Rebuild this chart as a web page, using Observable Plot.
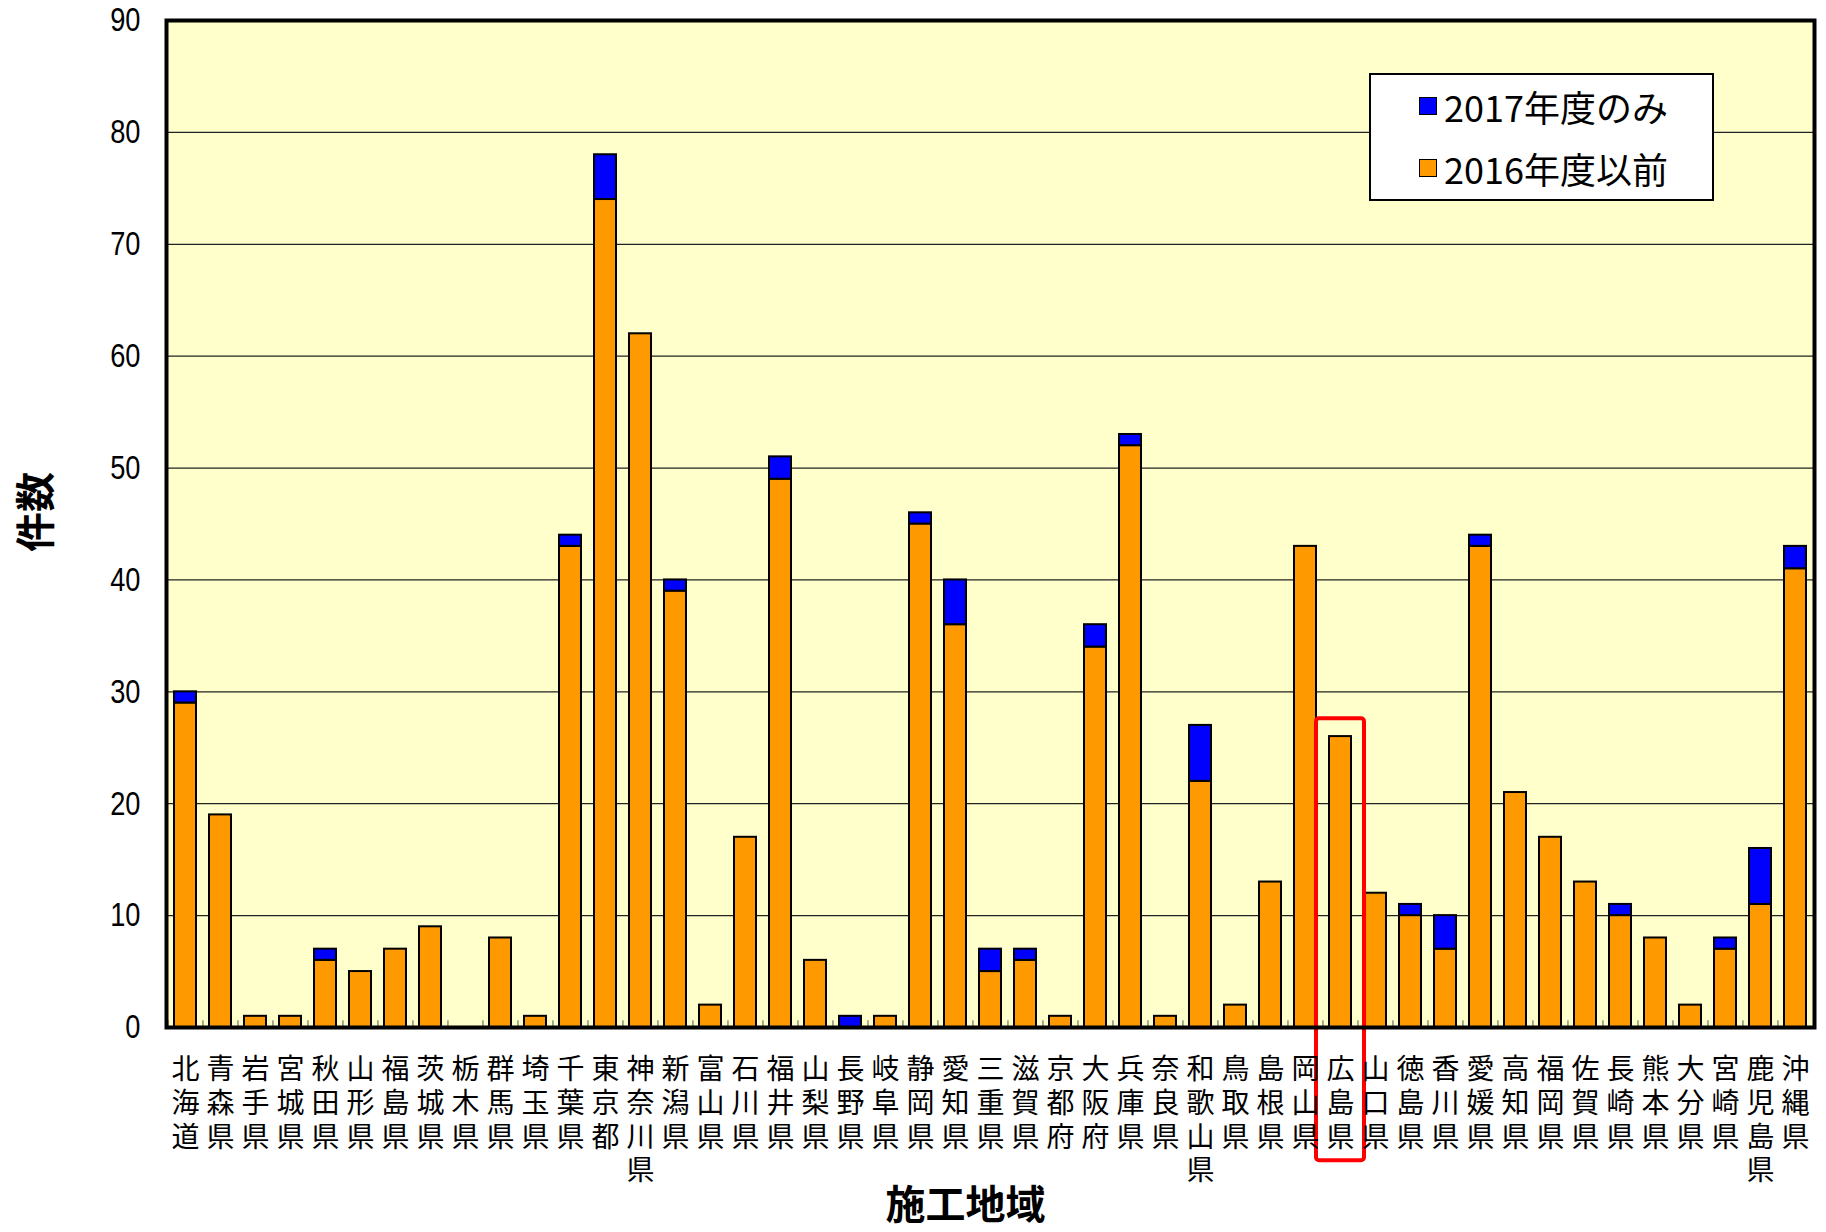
<!DOCTYPE html>
<html>
<head>
<meta charset="utf-8">
<script src="https://cdn.jsdelivr.net/npm/d3@7"></script>
<script src="https://cdn.jsdelivr.net/npm/@observablehq/plot@0.6"></script>
<style>
  body { margin: 0; background: #fff; }
  #wrap { position: relative; width: 1826px; height: 1232px; }
  #wrap svg { display: block; }
  .legend {
    position: absolute; left: 1369px; top: 73px; width: 345px; height: 128px;
    box-sizing: border-box; border: 2px solid #000; background: #fff;
    font-family: "Noto Sans CJK JP", sans-serif; font-size: 36px; color: #000;
  }
  .legend .row { height: 62px; display: flex; align-items: center; padding-left: 48px; }
  .legend .sw { width: 16px; height: 16px; border: 1.5px solid #000; margin-right: 7px; flex: none; }
</style>
</head>
<body>
<div id="wrap"></div>
<script>
const prefectures = ["北海道","青森県","岩手県","宮城県","秋田県","山形県","福島県","茨城県","栃木県","群馬県","埼玉県","千葉県","東京都","神奈川県","新潟県","富山県","石川県","福井県","山梨県","長野県","岐阜県","静岡県","愛知県","三重県","滋賀県","京都府","大阪府","兵庫県","奈良県","和歌山県","鳥取県","島根県","岡山県","広島県","山口県","徳島県","香川県","愛媛県","高知県","福岡県","佐賀県","長崎県","熊本県","大分県","宮崎県","鹿児島県","沖縄県"];
const before2016 = [29,19,1,1,6,5,7,9,0,8,1,43,74,62,39,2,17,49,6,0,1,45,36,5,6,1,34,52,1,22,2,13,43,26,12,10,7,43,21,17,13,10,8,2,7,11,41];
const only2017   = [1,0,0,0,1,0,0,0,0,0,0,1,4,0,1,0,0,2,0,1,0,1,4,2,1,0,2,1,0,5,0,0,0,0,0,1,3,1,0,0,0,1,0,0,1,5,2];
const yTicks = [0,10,20,30,40,50,60,70,80,90];
const seriesNames = ["2016年度以前","2017年度のみ"];
const seriesColors = ["#FF9900","#0000FF"];
const legendOrder = ["2017年度のみ","2016年度以前"];
const highlight = [{prefecture: "広島県", y1: -11.9, y2: 27.6}];

const rows = [];
prefectures.forEach((p, i) => {
  if (before2016[i] > 0) rows.push({p, s: seriesNames[0], v: before2016[i]});
  if (only2017[i] > 0) rows.push({p, s: seriesNames[1], v: only2017[i]});
});

const W = 1826, H = 1232, mL = 166, mR = 12, mT = 20, mB = 205;
const step = (W - mL - mR) / prefectures.length;

const chart = Plot.plot({
  width: W, height: H,
  marginLeft: mL, marginRight: mR, marginTop: mT, marginBottom: mB,
  x: {domain: prefectures, paddingInner: 0.37, paddingOuter: 0.185, label: null},
  y: {domain: [0, 90], label: null},
  color: {domain: seriesNames, range: seriesColors},
  style: {fontFamily: '"Noto Sans CJK JP", sans-serif', background: "#fff", color: "#000"},
  marks: [
    Plot.frame({fill: "#FFFFCC"}),
    Plot.ruleY(yTicks.filter(t => t > 0 && t < 90), {stroke: "#222", strokeWidth: 1.3}),
    Plot.ruleX(prefectures, {x: d => d, dx: -step / 2, y1: 0, y2: 0.6, stroke: "#555", strokeWidth: 1}),
    Plot.barY(rows, {x: "p", y: "v", fill: "s", stroke: "#000", strokeWidth: 2}),
    Plot.barY(highlight, {x: "prefecture", y1: "y1", y2: "y2", fill: "none", stroke: "#FF0000", strokeWidth: 4, insetLeft: -13, insetRight: -13, rx: 3}),
    Plot.frame({stroke: "#000", strokeWidth: 4}),
    Plot.axisY({ticks: yTicks, tickSize: 0, tickPadding: 26, fontSize: 34, fontFamily: '"Liberation Sans", Arimo, sans-serif', label: null}),
    Plot.axisX({tickSize: 0, tickPadding: 28, fontSize: 28, lineHeight: 1.2, tickFormat: d => d.split("").join("\n"), label: null}),
    Plot.text(["件数"], {frameAnchor: "left", dx: -129, dy: 28, rotate: -90, fontSize: 40, fontWeight: "bold"}),
    Plot.text(["施工地域"], {frameAnchor: "bottom", dx: -25, dy: 191, fontSize: 40, fontWeight: "bold"})
  ]
});

// condense the y tick numerals like the reference's narrow digits
chart.querySelectorAll('g[aria-label="y-axis tick label"] text').forEach(t => {
  const tr = t.getAttribute("transform");
  if (tr) t.setAttribute("transform", tr + " scale(0.8,1)");
  else {
    const x = +t.getAttribute("x") || 0, y = +t.getAttribute("y") || 0;
    t.removeAttribute("x"); t.removeAttribute("y");
    t.setAttribute("transform", `translate(${x},${y}) scale(0.8,1)`);
  }
});

const wrap = document.getElementById("wrap");
wrap.appendChild(chart);

const legend = document.createElement("div");
legend.className = "legend";
legendOrder.forEach(name => {
  const row = document.createElement("div");
  row.className = "row";
  const sw = document.createElement("span");
  sw.className = "sw";
  sw.style.background = seriesColors[seriesNames.indexOf(name)];
  const label = document.createElement("span");
  label.textContent = name;
  row.appendChild(sw);
  row.appendChild(label);
  legend.appendChild(row);
});
wrap.appendChild(legend);
</script>
</body>
</html>
